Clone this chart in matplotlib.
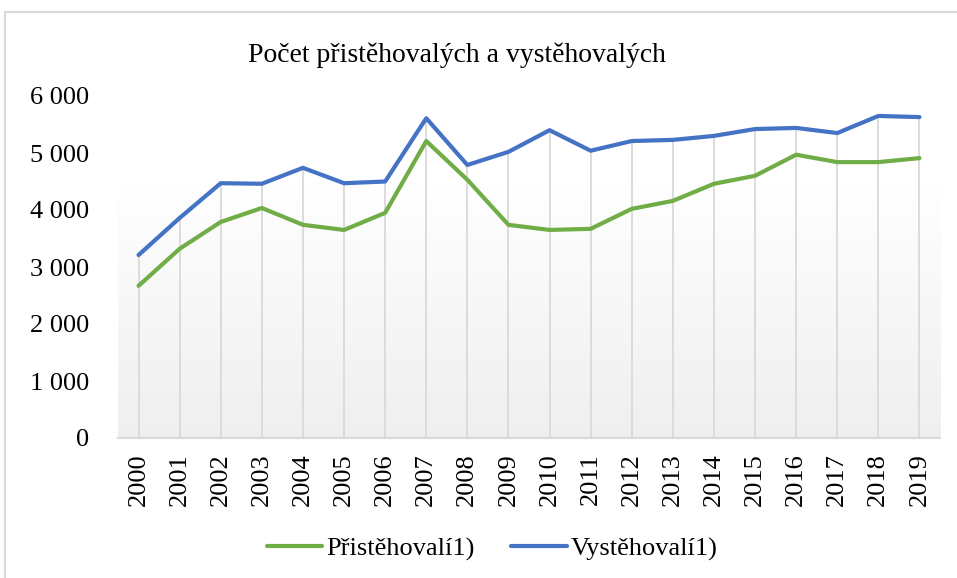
import numpy as np
import matplotlib.pyplot as plt
from matplotlib.ticker import FuncFormatter
from matplotlib.lines import Line2D

years = [str(y) for y in range(2000, 2020)]
pristehovali = [2670, 3320, 3790, 4035, 3740, 3650, 3950, 5210, 4530, 3740,
                3650, 3670, 4020, 4160, 4460, 4600, 4970, 4840, 4840, 4910]
vystehovali = [3210, 3860, 4470, 4460, 4740, 4470, 4500, 5610, 4790, 5020,
               5400, 5040, 5210, 5230, 5300, 5420, 5440, 5350, 5650, 5630]

plt.rcParams['font.family'] = ['Liberation Serif', 'DejaVu Serif']

GREEN = '#70AD47'
BLUE = '#4472C4'
GRID = '#d9d9d9'

fig = plt.figure(figsize=(9.57, 5.78), dpi=100)
W, H = 957, 578
ax = fig.add_axes([118 / W, 1 - 438 / H, (940 - 118) / W, (438 - 96) / H])

x = np.arange(len(years))

# plot area gradient: white on top, light grey at the bottom
grad = np.linspace(0, 1, 256).reshape(-1, 1)
grad = np.clip((grad - 0.25) / 0.75, 0, 1)
cols = 1 - grad * (1 - 0xef / 255)
img = np.dstack([cols, cols, cols])
ax.imshow(img, extent=[-0.5, len(years) - 0.5, 0, 6000], aspect='auto',
          origin='upper', zorder=0)

# drop lines from the highest point of each year down to the axis
tops = np.maximum(pristehovali, vystehovali)
ax.vlines(x, 0, tops, color=GRID, linewidth=1.3, zorder=1)

ax.plot(x, pristehovali, color=GREEN, linewidth=3.0, zorder=3,
        solid_joinstyle='round', solid_capstyle='round')
ax.plot(x, vystehovali, color=BLUE, linewidth=3.0, zorder=3,
        solid_joinstyle='round', solid_capstyle='round')

ax.set_xlim(-0.5, len(years) - 0.5)
ax.set_ylim(0, 6000)
ax.set_yticks(range(0, 6001, 1000))
ax.yaxis.set_major_formatter(FuncFormatter(lambda v, p: f"{int(v):,}".replace(',', ' ')))
ax.set_xticks(x)
ax.set_xticklabels(years, rotation=90)
ax.tick_params(axis='both', length=0, labelsize=19, colors='black')
ax.tick_params(axis='y', pad=21)
ax.tick_params(axis='x', pad=11)

for side in ['left', 'right', 'top']:
    ax.spines[side].set_visible(False)
ax.spines['bottom'].set_color(GRID)
ax.spines['bottom'].set_linewidth(1.5)

fig.text(457 / W, 1 - 55 / H, 'Počet přistěhovalých a vystěhovalých',
         ha='center', va='center', fontsize=20)

# chart border (top and left edges visible)
fig.add_artist(Line2D([5 / W, 1], [1 - 12 / H, 1 - 12 / H], color=GRID, linewidth=1.5))
fig.add_artist(Line2D([5 / W, 5 / W], [0, 1 - 12 / H], color=GRID, linewidth=1.5))

handles = [Line2D([], [], color=GREEN, linewidth=3.0, solid_capstyle='round'),
           Line2D([], [], color=BLUE, linewidth=3.0, solid_capstyle='round')]
fig.legend(handles, ['Přistěhovalí1)', 'Vystěhovalí1)'], loc='center',
           bbox_to_anchor=(492 / W, 1 - 549 / H), ncol=2, frameon=False,
           fontsize=19, handlelength=2.1, handletextpad=0.15, columnspacing=1.4)

fig.savefig('out.png', dpi=100)
